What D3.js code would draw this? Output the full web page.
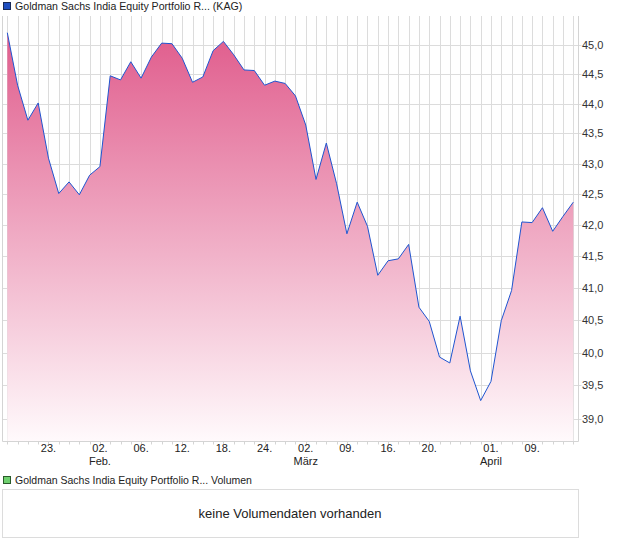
<!DOCTYPE html>
<html>
<head>
<meta charset="utf-8">
<script src="https://cdn.jsdelivr.net/npm/d3@7"></script>
<style>
  body { margin: 0; background: #fff; }
  text { font-family: "Liberation Sans", Arial, sans-serif; fill: #222; }
</style>
</head>
<body>
<div id="chart"></div>
<script>

// price per trading day (index based x axis)
let values = [45.21, 44.31, 43.72, 44.01, 43.09, 42.51, 42.70, 42.49, 42.81, 42.95,
              44.47, 44.40, 44.71, 44.43, 44.79, 45.03, 45.02, 44.77, 44.36, 44.45,
              44.90, 45.06, 44.83, 44.57, 44.56, 44.31, 44.38, 44.34, 44.13, 43.64,
              42.74, 43.34, 42.67, 41.86, 42.37, 41.98, 41.20, 41.43, 41.46, 41.69,
              40.70, 40.48, 39.93, 39.84, 40.56, 39.72, 39.27, 39.56, 40.49, 40.96,
              42.05, 42.04, 42.28, 41.90, 42.14, 42.37];

let tick_idx    = [4, 9, 13, 17, 21, 25, 29, 33, 37, 41, 47, 51];
let tick_labels = ["23.", "02.", "06.", "12.", "18.", "24.", "02.", "09.", "16.", "20.", "01.", "09."];
let month_idx    = [9, 29, 47];
let month_labels = ["Feb.", "März", "April"];

let y_ticks = [39.0, 39.5, 40.0, 40.5, 41.0, 41.5, 42.0, 42.5, 43.0, 43.5, 44.0, 44.5, 45.0];

let legend_main = "Goldman Sachs India Equity Portfolio R... (KAG)";
let legend_vol  = "Goldman Sachs India Equity Portfolio R... Volumen";
let no_volume   = "keine Volumendaten vorhanden";


let W = 620, H = 546;
let plot = {left: 2.5, right: 578.5, top: 16, bottom: 441.5};

let svg = d3.select("#chart")
            .append("svg")
            .attr("width", W)
            .attr("height", H);

let x = d3.scaleLinear()
    .domain([0, values.length - 1])
    .range([7.3, 573.3]);

// log scale, like the original
let y = d3.scaleLog()
    .domain([38.66, 45.50])
    .range([plot.bottom, plot.top]);

let defs = svg.append("defs");
let grad = defs.append("linearGradient")
    .attr("id", "fill_grad")
    .attr("gradientUnits", "userSpaceOnUse")
    .attr("x1", 0).attr("x2", 0)
    .attr("y1", plot.top).attr("y2", plot.bottom);
grad.append("stop").attr("offset", 0).attr("stop-color", "#df5688");
grad.append("stop").attr("offset", 1).attr("stop-color", "#fffafc");

// legend top
svg.append("rect")
    .attr("x", 3.5).attr("y", 2.5).attr("width", 7).attr("height", 7)
    .attr("fill", "#1f4fc0").attr("stroke", "#1a2a55");
svg.append("text")
    .attr("x", 15).attr("y", 10)
    .style("font-size", "10.6px")
    .text(legend_main);

// grid
let grid = svg.append("g");

grid.selectAll(".vgrid")
    .data(d3.range(values.length))
    .enter().append("line")
    .attr("x1", d => Math.round(x(d)) + 0.5)
    .attr("x2", d => Math.round(x(d)) + 0.5)
    .attr("y1", plot.top).attr("y2", plot.bottom)
    .attr("stroke", "#dcdcdc");

grid.selectAll(".hgrid")
    .data(y_ticks)
    .enter().append("line")
    .attr("x1", plot.left).attr("x2", plot.right + 3)
    .attr("y1", d => Math.round(y(d)) + 0.5)
    .attr("y2", d => Math.round(y(d)) + 0.5)
    .attr("stroke", "#dcdcdc");

// area + line
let area = d3.area()
    .x((d, i) => x(i))
    .y0(plot.bottom)
    .y1(d => y(d));

let line = d3.line()
    .x((d, i) => x(i))
    .y(d => y(d));

svg.append("path")
    .datum(values)
    .attr("d", area)
    .attr("fill", "url(#fill_grad)");

svg.append("path")
    .datum(values)
    .attr("d", line)
    .attr("fill", "none")
    .attr("stroke", "#1f55d0")
    .attr("stroke-width", 1);

// frame: left, right, bottom
svg.append("path")
    .attr("d", "M" + plot.left + "," + plot.top + "V" + plot.bottom + "H" + plot.right + "V" + plot.top)
    .attr("fill", "none")
    .attr("stroke", "#d4d4d4");

// small ticks under the bottom edge
svg.selectAll(".xt")
    .data(d3.range(values.length))
    .enter().append("line")
    .attr("x1", d => Math.round(x(d)) + 0.5)
    .attr("x2", d => Math.round(x(d)) + 0.5)
    .attr("y1", plot.bottom).attr("y2", plot.bottom + 3)
    .attr("stroke", "#d4d4d4");

// y labels
svg.selectAll(".ylab")
    .data(y_ticks)
    .enter().append("text")
    .attr("x", 582)
    .attr("y", d => y(d) + 4)
    .style("font-size", "11px")
    .style("fill", "#333")
    .text(d => d3.format(".1f")(d).replace(".", ","));

// x labels
svg.selectAll(".xlab")
    .data(tick_idx)
    .enter().append("text")
    .attr("x", d => x(d))
    .attr("y", 452)
    .attr("text-anchor", "middle")
    .style("font-family", "'Liberation Sans Narrow', 'Liberation Sans', sans-serif")
    .style("font-size", "11px")
    .text((d, i) => tick_labels[i]);

svg.selectAll(".mlab")
    .data(month_idx)
    .enter().append("text")
    .attr("x", d => x(d))
    .attr("y", 465)
    .attr("text-anchor", "middle")
    .style("font-family", "'Liberation Sans Narrow', 'Liberation Sans', sans-serif")
    .style("font-size", "11px")
    .text((d, i) => month_labels[i]);

// volume panel
svg.append("rect")
    .attr("x", 3.5).attr("y", 476.5).attr("width", 7).attr("height", 7)
    .attr("fill", "#6fd06f").attr("stroke", "#2a5a2a");
svg.append("text")
    .attr("x", 15).attr("y", 484)
    .style("font-size", "10.5px")
    .text(legend_vol);

svg.append("rect")
    .attr("x", 2.5).attr("y", 489.5).attr("width", 576).attr("height", 48)
    .attr("fill", "none")
    .attr("stroke", "#dcdcdc");

svg.append("text")
    .attr("x", 290).attr("y", 518)
    .attr("text-anchor", "middle")
    .style("font-size", "13px")
    .text(no_volume);

</script>
</body>
</html>
